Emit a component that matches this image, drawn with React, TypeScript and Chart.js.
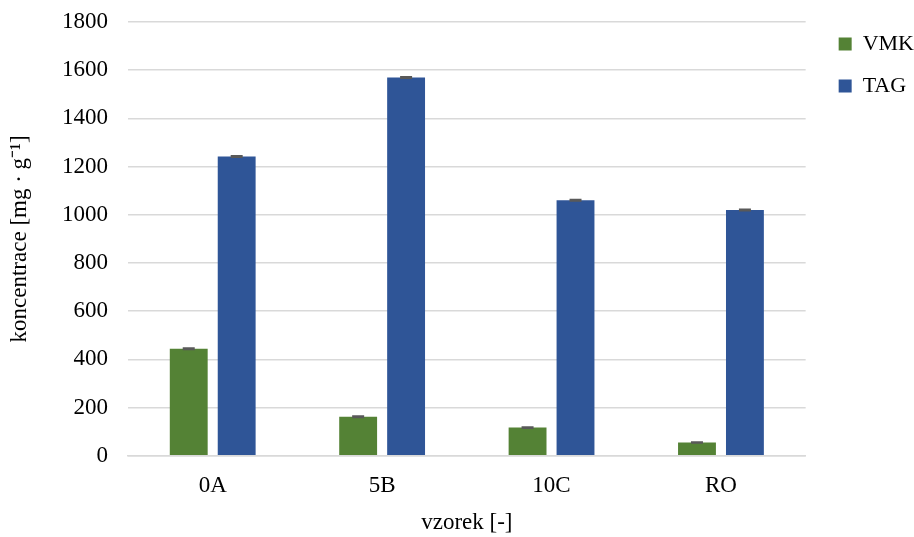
import React, { useEffect, useRef } from "react";
import { Chart, registerables } from "chart.js";

Chart.register(...registerables);

const categories = ["0A", "5B", "10C", "RO"];
const vmkValues = [444, 162, 117, 55];
const tagValues = [1242, 1570, 1060, 1020];
const vmkErrors = [3, 3, 3, 2];
const tagErrors = [3, 3, 3, 3];
const yTicks = [0, 200, 400, 600, 800, 1000, 1200, 1400, 1600, 1800];

const FONT = "'Liberation Serif', 'Times New Roman', serif";
const FONT_SIZE = 23;

// Draws the small standard-deviation caps on top of each bar
const errorBarPlugin = {
  id: "errorBars",
  afterDatasetsDraw(chart: any) {
    const ctx = chart.ctx;
    const yScale = chart.scales.y;
    const errs = [vmkErrors, tagErrors];
    chart.data.datasets.forEach((ds: any, di: number) => {
      const meta = chart.getDatasetMeta(di);
      meta.data.forEach((bar: any, i: number) => {
        const v = ds.data[i];
        const e = errs[di][i];
        const yTop = yScale.getPixelForValue(v + e);
        const yBot = yScale.getPixelForValue(v - e);
        const half = 6;
        ctx.save();
        ctx.strokeStyle = "#595959";
        ctx.lineWidth = 1.5;
        ctx.beginPath();
        ctx.moveTo(bar.x, yTop);
        ctx.lineTo(bar.x, yBot);
        ctx.moveTo(bar.x - half, yTop);
        ctx.lineTo(bar.x + half, yTop);
        ctx.moveTo(bar.x - half, yBot);
        ctx.lineTo(bar.x + half, yBot);
        ctx.stroke();
        ctx.restore();
      });
    });
  },
};

// Nudges the legend block from its computed box
const legendShiftPlugin = {
  id: "legendShift",
  afterLayout(chart: any) {
    const lg = chart.legend;
    if (lg) {
      lg.left += 13;
      lg.right += 13;
      lg.top -= 9;
      lg.bottom -= 9;
    }
  },
};

export default function App() {
  const canvasRef = useRef<HTMLCanvasElement | null>(null);

  useEffect(() => {
    if (!canvasRef.current) return;
    const chart = new Chart(canvasRef.current, {
      type: "bar",
      data: {
        labels: categories,
        datasets: [
          {
            label: "VMK",
            data: vmkValues,
            backgroundColor: "#548235",
            borderWidth: 0,
          },
          {
            label: "TAG",
            data: tagValues,
            backgroundColor: "#2F5597",
            borderWidth: 0,
          },
        ],
      },
      options: {
        animation: false,
        responsive: true,
        maintainAspectRatio: false,
        datasets: {
          bar: { categoryPercentage: 0.566, barPercentage: 0.79 },
        },
        layout: { padding: { top: 22, right: 3, left: 6, bottom: 0 } },
        plugins: {
          tooltip: { enabled: false },
          legend: {
            position: "right",
            align: "start",
            labels: {
              font: { family: FONT, size: 22 },
              color: "#000",
              boxWidth: 13,
              boxHeight: 13,
              padding: 20,
            },
          },
        },
        scales: {
          x: {
            grid: { display: false, drawTicks: false },
            border: { display: true, color: "#d9d9d9", width: 1.5 },
            ticks: { font: { family: FONT, size: FONT_SIZE }, color: "#000", padding: 16 },
            title: {
              display: true,
              text: "vzorek [-]",
              font: { family: FONT, size: FONT_SIZE },
              color: "#000",
              padding: { top: -6, bottom: 0 },
            },
          },
          y: {
            min: 0,
            max: 1800,
            afterBuildTicks(scale: any) {
              scale.ticks = yTicks.map((v) => ({ value: v }));
            },
            afterFit(scale: any) {
              scale.width = 122;
            },
            grid: {
              color: "#d9d9d9",
              lineWidth: 1.5,
              drawTicks: true,
              tickLength: 18,
              tickColor: "rgba(0,0,0,0)",
            },
            border: { display: false },
            ticks: {
              font: { family: FONT, size: FONT_SIZE },
              color: "#000",
              padding: 2,
              callback: (v: any) => String(v),
            },
            title: {
              display: true,
              text: "koncentrace [mg · g⁻¹]",
              font: { family: FONT, size: FONT_SIZE },
              color: "#000",
              padding: { top: 0, bottom: 8 },
            },
          },
        },
      },
      plugins: [errorBarPlugin, legendShiftPlugin],
    });
    return () => chart.destroy();
  }, []);

  return (
    <div style={{ position: "fixed", left: 0, top: 0, width: 914, height: 537, background: "#fff" }}>
      <canvas ref={canvasRef} />
    </div>
  );
}
